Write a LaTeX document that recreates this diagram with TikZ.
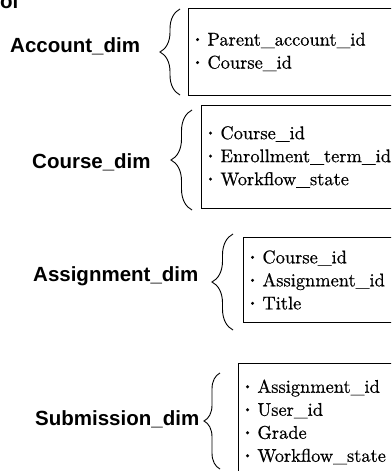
\documentclass[tikz,border=0pt]{standalone}
\usepackage{fontspec}
\newfontfamily\lblfont{Liberation Sans}
\newfontfamily\itemfont{lmroman10-regular.otf}[FakeBold=0.6]
\usetikzlibrary{decorations.pathreplacing}

\newcommand\itm{\makebox[14pt][l]{\raisebox{3.6pt}{\fontsize{10.5}{10.5}\selectfont\textbullet}}}

\begin{document}
\begin{tikzpicture}[x=1pt, y=-1pt,
  lbl/.style={font=\lblfont\bfseries\fontsize{20.5}{24}\selectfont,
    inner sep=0pt, anchor=base west},
  fields/.style={draw, line width=0.9pt, anchor=north west,
    minimum width=260pt, text width=250pt, inner xsep=4pt, align=left,
    font=\itemfont\fontsize{18.4}{23}\selectfont},
  curly/.style={decorate, line width=0.9pt,
    decoration={brace, amplitude=#1}}]

\useasboundingbox (0,0) rectangle (391,471);
\clip (0,0) rectangle (391,471);

\node[lbl] (cut) at (0,8.5) {ol}; %% title, cut at the top

%% Account
\node[lbl] (acc) at (10,52) {Account\_dim};
\node[fields, minimum height=87pt] (accbox) at (188,8)
  {\itm Parent\_account\_id\\ \itm Course\_id};
\draw[curly=20pt] (180,95) -- (180,9);

%% Course
\node[lbl] (crs) at (32,168) {Course\_dim};
\node[fields, minimum height=103pt] (crsbox) at (201,105)
  {\itm Course\_id\\ \itm Enrollment\_term\_id\\ \itm Workflow\_state};
\draw[curly=21pt] (192,210) -- (192,110);

%% Assignment
\node[lbl] (asg) at (33,281) {Assignment\_dim};
\node[fields, minimum height=85pt] (asgbox) at (243,237)
  {\itm Course\_id\\ \itm Assignment\_id\\ \itm Title};
\draw[curly=21pt] (233,330) -- (233,234);

%% Submission
\node[lbl] (sub) at (35,425) {Submission\_dim};
\node[fields, minimum height=117pt] (subbox) at (238,363)
  {\itm Assignment\_id\\ \itm User\_id\\ \itm Grade\\ \itm Workflow\_state};
\draw[curly=16pt] (220,469) -- (220,373);

\end{tikzpicture}
\end{document}
